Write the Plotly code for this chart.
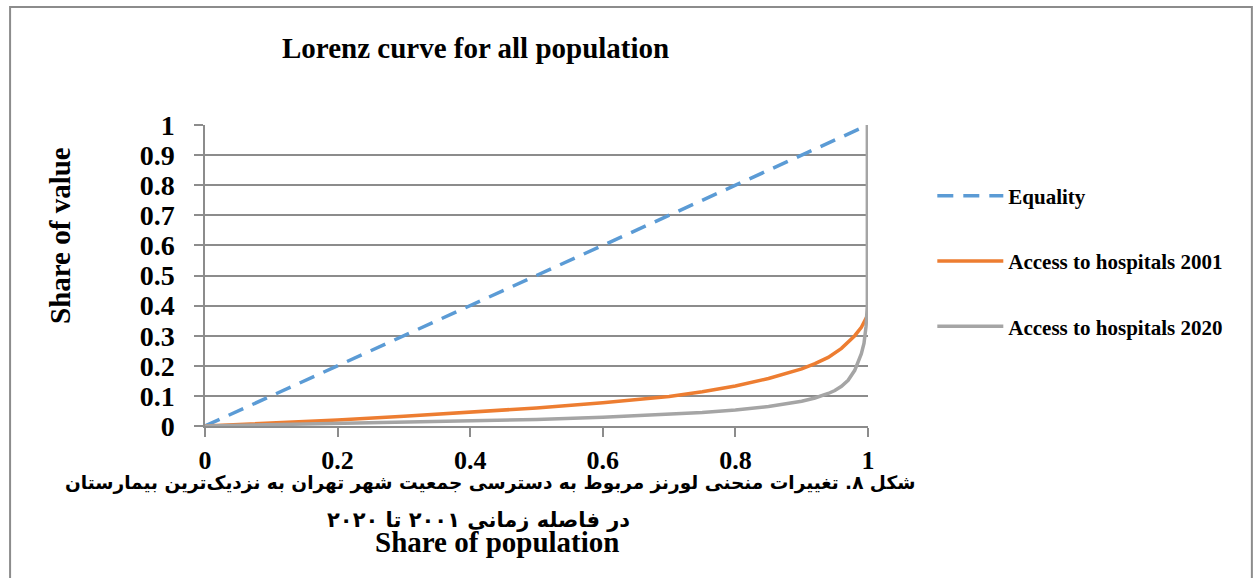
import plotly.graph_objects as go

# Share of population (x) and share of value (y) for each Lorenz curve
equality_x = [0, 1]
equality_y = [0, 1]

hosp2001_x = [0, 0.1, 0.2, 0.3, 0.4, 0.5, 0.6, 0.7, 0.75, 0.8, 0.85, 0.9, 0.92,
              0.94, 0.96, 0.97, 0.98, 0.99, 0.995, 0.998, 1.0, 1.0]
hosp2001_y = [0, 0.009, 0.02, 0.032, 0.045, 0.06, 0.077, 0.098, 0.114, 0.133,
              0.158, 0.19, 0.207, 0.228, 0.258, 0.278, 0.3, 0.328, 0.348, 0.362,
              0.375, 1.0]

hosp2020_x = [0, 0.1, 0.2, 0.3, 0.4, 0.5, 0.6, 0.7, 0.75, 0.8, 0.85, 0.9, 0.92,
              0.94, 0.95, 0.96, 0.97, 0.98, 0.985, 0.99, 0.994, 0.997, 0.999, 0.999]
hosp2020_y = [0, 0.004, 0.008, 0.012, 0.017, 0.022, 0.029, 0.038, 0.045, 0.053,
              0.065, 0.082, 0.093, 0.108, 0.118, 0.132, 0.152, 0.185, 0.21, 0.24,
              0.275, 0.33, 0.4, 1.0]

tick_vals_x = [0, 0.2, 0.4, 0.6, 0.8, 1]
tick_text_x = ["0", "0.2", "0.4", "0.6", "0.8", "1"]
tick_vals_y = [0, 0.1, 0.2, 0.3, 0.4, 0.5, 0.6, 0.7, 0.8, 0.9, 1]
tick_text_y = ["0", "0.1", "0.2", "0.3", "0.4", "0.5", "0.6", "0.7", "0.8", "0.9", "1"]

SERIF = "Liberation Serif, Times New Roman, serif"
GRID = "#8c8c8c"

fig = go.Figure()
fig.add_trace(go.Scatter(x=equality_x, y=equality_y, mode="lines", name="Equality",
                         legendgroup="a",
                         line=dict(color="#5B9BD5", width=3.5, dash="16px,10px")))
fig.add_trace(go.Scatter(x=hosp2001_x, y=hosp2001_y, mode="lines",
                         name="Access to hospitals 2001", legendgroup="b",
                         line=dict(color="#ED7D31", width=3.5)))
fig.add_trace(go.Scatter(x=hosp2020_x, y=hosp2020_y, mode="lines",
                         name="Access to hospitals 2020", legendgroup="c",
                         line=dict(color="#A5A5A5", width=3.5)))

fig.update_layout(
    width=1257, height=578,
    margin=dict(l=205, r=389, t=125, b=152),
    paper_bgcolor="white", plot_bgcolor="white",
    showlegend=True,
    legend=dict(x=1.097, y=0.832, xanchor="left", yanchor="top",
                font=dict(family=SERIF, size=21, color="black", weight="bold"),
                itemwidth=66, tracegroupgap=35, bgcolor="rgba(0,0,0,0)"),
    xaxis=dict(range=[0, 1], tickvals=tick_vals_x, ticktext=tick_text_x,
               showgrid=False, zeroline=False, showline=True, linecolor=GRID,
               linewidth=1.5, ticks="outside", ticklen=9, tickcolor=GRID,
               tickwidth=1.5, ticklabelstandoff=1,
               tickfont=dict(family=SERIF, size=26, color="black", weight="bold")),
    yaxis=dict(range=[0, 1], tickvals=tick_vals_y, ticktext=tick_text_y,
               showgrid=True, gridcolor=GRID, gridwidth=1.5, zeroline=False,
               showline=True, linecolor=GRID, linewidth=1.5, ticks="outside",
               ticklen=9, tickcolor=GRID, tickwidth=1.5, ticklabelstandoff=14,
               tickfont=dict(family=SERIF, size=28, color="black", weight="bold")),
    shapes=[dict(type="rect", xref="paper", yref="paper",
                 x0=-0.294, x1=1.579, y0=-0.7, y1=1.392,
                 line=dict(color="#8c8c8c", width=2), fillcolor="rgba(0,0,0,0)",
                 layer="below")],
)

annotations = [
    dict(text="Lorenz curve for all population", x=475, y=48,
         font=dict(family=SERIF, size=29, weight="bold")),
    dict(text="Share of value", x=60, y=236, textangle=-90,
         font=dict(family=SERIF, size=29, weight="bold")),
    dict(text="Share of population", x=497, y=542,
         font=dict(family=SERIF, size=29, weight="bold")),
    dict(text="شکل ۸. تغییرات منحنی لورنز مربوط به دسترسی جمعیت شهر تهران به نزدیک‌ترین بیمارستان",
         x=490, y=483, font=dict(family="DejaVu Sans", size=18.5, weight="bold")),
    dict(text="در فاصله زمانی ۲۰۰۱ تا ۲۰۲۰", x=478, y=520,
         font=dict(family="DejaVu Sans", size=21, weight="bold")),
]
for a in annotations:
    px, py = a.pop("x"), a.pop("y")
    fig.add_annotation(xref="paper", yref="paper",
                       x=(px - 205) / 663, y=(426 - py) / 301,
                       xanchor="center", yanchor="middle", showarrow=False,
                       font=dict(color="black", **a.pop("font")), **a)

fig.write_html("out.html")
